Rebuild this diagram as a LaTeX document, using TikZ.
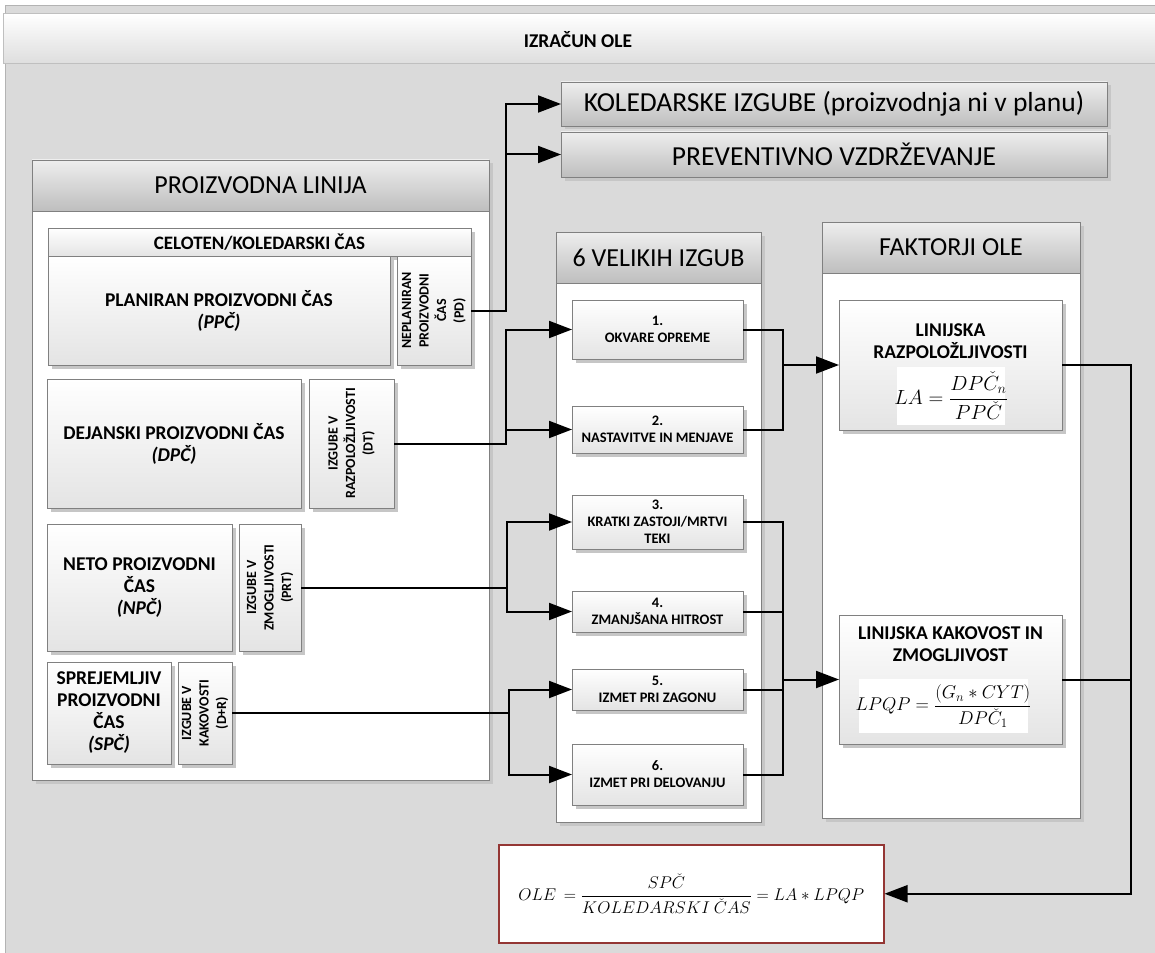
\RequirePackage{fix-cm}
\documentclass[tikz,border=0pt]{standalone}
\usepackage{amsmath}
\usepackage{fontspec}
\setmainfont{Carlito}
\usetikzlibrary{arrows.meta,shadows}

\definecolor{bgc}{RGB}{218,218,218}
\definecolor{edgec}{RGB}{128,128,128}
\definecolor{shadowc}{RGB}{198,198,198}
\definecolor{hdtop}{RGB}{238,238,238}
\definecolor{hdbot}{RGB}{190,190,190}
\definecolor{celbot}{RGB}{228,228,228}
\definecolor{titlebot}{RGB}{222,222,222}
\definecolor{oleframe}{RGB}{148,54,52}

\tikzset{
  shadowed/.style={drop shadow={shadow xshift=3.5pt,shadow yshift=-3.5pt,fill=shadowc,opacity=1}},
  panel/.style={draw=edgec, fill=white, line width=0.8pt, inner sep=0pt, outer sep=0pt,
    anchor=north west, shadowed},
  hdr/.style={draw=edgec, line width=0.8pt, top color=hdtop, bottom color=hdbot,
    inner sep=0pt, outer sep=0pt, anchor=north west, text=black,
    font=\fontsize{26}{30}\selectfont},
  lossbar/.style={hdr, shadowed, font=\fontsize{27.5}{30}\selectfont},
  cell/.style={draw=edgec, line width=0.8pt, top color=white, bottom color=celbot,
    inner sep=2pt, outer sep=0pt, anchor=north west, align=center, shadowed,
    font=\bfseries\fontsize{19.5}{22}\selectfont},
  vtext/.style={rotate=90, align=center, inner sep=0pt,
    font=\bfseries\fontsize{14}{17.5}\selectfont},
  lossfont/.style={font=\bfseries\fontsize{14.5}{17}\selectfont},
  ftitle/.style={align=center, inner sep=0pt, font=\bfseries\fontsize{19.5}{22.5}\selectfont},
  mathbg/.style={fill=white, inner sep=0pt},
  formula/.style={inner sep=0pt},
  conn/.style={line width=2pt, black},
  arr/.style={conn, -{Triangle[length=23pt,width=17pt]}}
}

\begin{document}
\begin{tikzpicture}[x=1pt,y=-1pt]
\useasboundingbox (0,0) rectangle (1155,952);

% outer frame and title band
\fill[bgc] (5,5) rectangle (1165,960);
\draw[edgec!60, line width=0.8pt] (5,960) -- (5,5) -- (1165,5);
\node[anchor=north west, minimum width=1165, minimum height=50, inner sep=0pt,
  top color=white, bottom color=titlebot, draw=edgec!50, line width=0.8pt] (title) at (3,13) {};
\node[font=\bfseries\fontsize{19.5}{22}\selectfont] (titletext) at (578,40) {IZRAČUN OLE};

% calendar losses
\node[lossbar, minimum width=546, minimum height=44] (kol) at (561,82) {KOLEDARSKE IZGUBE (proizvodnja ni v planu)};
\node[lossbar, minimum width=546, minimum height=45] (prev) at (561,132) {PREVENTIVNO VZDRŽEVANJE};

% production line panel
\node[panel, minimum width=457, minimum height=620] (pl) at (32,160) {};
\node[hdr, minimum width=457, minimum height=51] (plh) at (32,160) {PROIZVODNA LINIJA};

\node[cell, minimum width=423, minimum height=28, font=\bfseries\fontsize{19}{20}\selectfont] (cel) at (48,228) {CELOTEN/KOLEDARSKI ČAS};
\node[cell, minimum width=342, minimum height=109] (ppc) at (48,256) {PLANIRAN PROIZVODNI ČAS\\\textit{(PPČ)}};
\node[cell, minimum width=74, minimum height=109] (np) at (397,256) {};
\node[vtext] (nptext) at (np.center) {NEPLANIRAN\\PROIZVODNI\\ČAS\\(PD)};

\node[cell, minimum width=254, minimum height=129] (dpc) at (47,379) {DEJANSKI PROIZVODNI ČAS\\\textit{(DPČ)}};
\node[cell, minimum width=85, minimum height=129] (dt) at (309,379) {};
\node[vtext] (dttext) at (dt.center) {IZGUBE V\\RAZPOLOŽLJIVOSTI\\(DT)};

\node[cell, minimum width=185, minimum height=127] (npc) at (47,524) {NETO PROIZVODNI\\ČAS\\\textit{(NPČ)}};
\node[cell, minimum width=62, minimum height=127] (prt) at (239,524) {};
\node[vtext] (prttext) at (prt.center) {IZGUBE V\\ZMOGLJIVOSTI\\(PRT)};

\node[cell, minimum width=124, minimum height=102] (spc) at (47,662) {SPREJEMLJIV\\PROIZVODNI\\ČAS\\\textit{(SPČ)}};
\node[cell, minimum width=54, minimum height=102] (dr) at (178,662) {};
\node[vtext] (drtext) at (dr.center) {IZGUBE V\\KAKOVOSTI\\(D+R)};

% six big losses panel
\node[panel, minimum width=205, minimum height=590] (six) at (556,232) {};
\node[hdr, minimum width=205, minimum height=51] (sixh) at (556,232) {6 VELIKIH IZGUB};
\node[cell, lossfont, minimum width=171, minimum height=59] (b1) at (572,300) {1.\\OKVARE OPREME};
\node[cell, lossfont, minimum width=171, minimum height=47] (b2) at (572,406) {2.\\NASTAVITVE IN MENJAVE};
\node[cell, lossfont, minimum width=171, minimum height=54] (b3) at (572,495) {3.\\KRATKI ZASTOJI/MRTVI\\TEKI};
\node[cell, lossfont, minimum width=171, minimum height=41] (b4) at (572,591) {4.\\ZMANJŠANA HITROST};
\node[cell, lossfont, minimum width=171, minimum height=41] (b5) at (572,669) {5.\\IZMET PRI ZAGONU};
\node[cell, lossfont, minimum width=171, minimum height=61] (b6) at (572,744) {6.\\IZMET PRI DELOVANJU};

% OLE factors panel
\node[panel, minimum width=258, minimum height=596] (fak) at (822,222) {};
\node[hdr, minimum width=258, minimum height=51] (fakh) at (822,222) {FAKTORJI OLE};

\node[cell, minimum width=223, minimum height=130] (la) at (839,300) {};
\node[ftitle] (latitle) at (950.5,341) {LINIJSKA\\RAZPOLOŽLJIVOSTI};
\node[mathbg, minimum width=108, minimum height=58] (labg) at (951,396) {};
\node[formula, font=\fontsize{20.5}{24}\selectfont] (laf) at (labg.center)
  {$\displaystyle LA=\frac{DP\check{C}_n}{PP\check{C}}$};

\node[cell, minimum width=223, minimum height=129] (kak) at (839,615) {};
\node[ftitle] (kaktitle) at (950.5,644) {LINIJSKA KAKOVOST IN\\ZMOGLJIVOST};
\node[mathbg, minimum width=169, minimum height=54] (kakbg) at (943.5,706) {};
\node[formula, font=\fontsize{18.5}{22}\selectfont] (kakf) at (kakbg.center)
  {$\displaystyle LPQP=\frac{(G_n\ast CYT)}{DP\check{C}_1}$};

% overall result
\node[draw=oleframe, line width=1.5pt, fill=white, anchor=north west, inner sep=0pt,
  minimum width=385, minimum height=98] (ole) at (498,844) {};
\node[formula, font=\fontsize{17}{21}\selectfont] (olef) at (ole.center)
  {$\displaystyle OLE\,=\frac{SP\check{C}}{KOLEDARSKI\ \check{C}AS}=LA\ast LPQP$};

% connectors: losses of the production line
\draw[arr] (np.east) -- ++(35,0) |- (kol.west);
\draw[arr] (np.east) -- ++(35,0) |- (prev.west);
\draw[arr] (dt.east) -- ++(112,0) |- (b1.west);
\draw[arr] (dt.east) -- ++(112,0) |- (b2.west);
\draw[arr] (prt.east) -- ++(206,0) |- (b3.west);
\draw[arr] (prt.east) -- ++(206,0) |- (b4.west);
\draw[arr] (dr.east) -- ++(277,0) |- (b5.west);
\draw[arr] (dr.east) -- ++(277,0) |- (b6.west);

% connectors: losses to factors
\coordinate (ja) at (783,365);
\coordinate (jb) at (783,679.5);
\coordinate (jc) at (1131,365);
\draw[conn] (b1.east) -| (ja) |- (b2.east);
\draw[arr] (ja) -- (la.west);
\draw[conn] (b3.east) -| (jb) |- (b6.east);
\draw[conn] (b4.east) -- (b4.east -| jb);
\draw[conn] (b5.east) -- (b5.east -| jb);
\draw[arr] (jb) -- (kak.west);

% factors to result
\draw[arr] (la.east) -- (la.east -| jc) |- (ole.east);
\draw[conn] (kak.east) -- (kak.east -| jc);
\end{tikzpicture}
\end{document}
